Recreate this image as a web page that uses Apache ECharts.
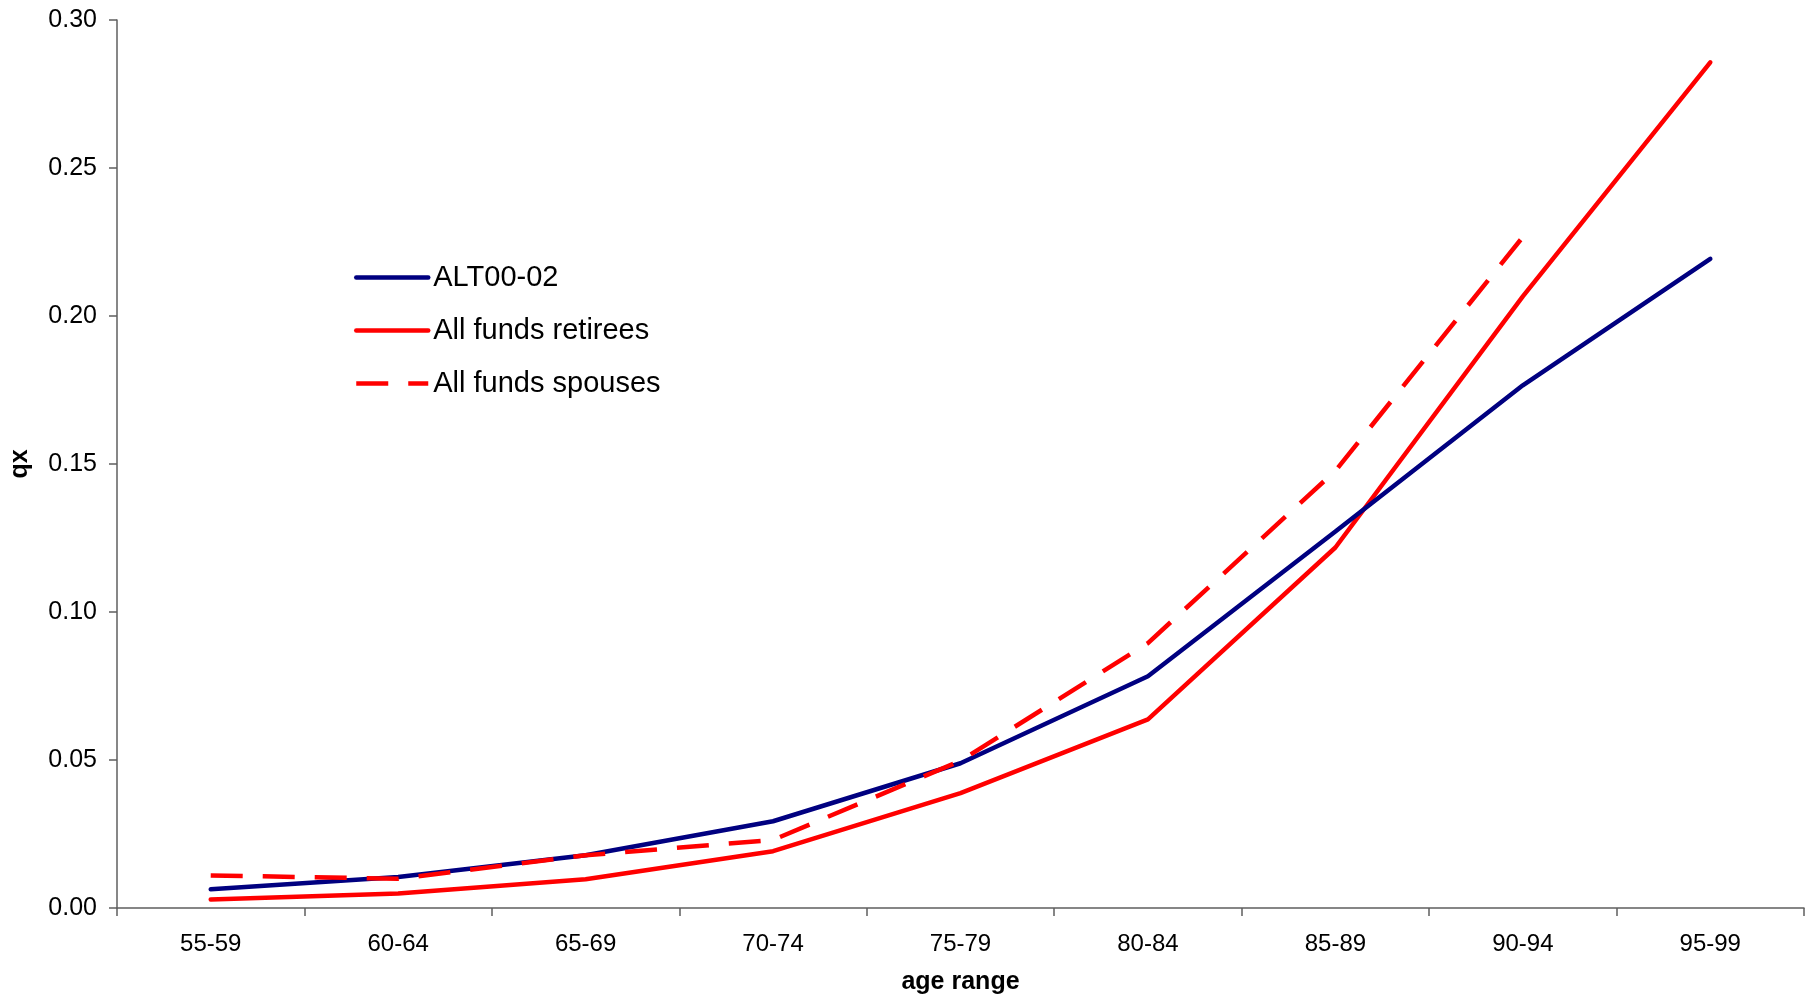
<!DOCTYPE html>
<html>
<head>
<meta charset="utf-8">
<title>qx by age range</title>
<script src="https://cdn.jsdelivr.net/npm/echarts@6/dist/echarts.min.js"></script>
<style>
  html, body { margin: 0; padding: 0; background: #ffffff; }
  #chart { width: 1818px; height: 997px; }
</style>
</head>
<body>
<div id="chart"></div>
<script>
// Age bands on the horizontal axis
const ageRanges = ['55-59', '60-64', '65-69', '70-74', '75-79', '80-84', '85-89', '90-94', '95-99'];

// Mortality rates qx per age band
const alt0002 = [0.0063, 0.0105, 0.0178, 0.0293, 0.0489, 0.0783, 0.1272, 0.1766, 0.2193];
const allFundsRetirees = [0.0029, 0.0049, 0.0097, 0.0192, 0.0388, 0.0637, 0.1218, 0.2066, 0.2857];
const allFundsSpouses = [0.0110, 0.0099, 0.0178, 0.0230, 0.0497, 0.0895, 0.1477, 0.2267, null];

// Value axis ticks
const yMin = 0;
const yMax = 0.30;
const yStep = 0.05;

const fontFamily = '"Liberation Sans", Arial, Helvetica, sans-serif';
const axisGrey = '#5f5f5f';

const chart = echarts.init(document.getElementById('chart'), null, { renderer: 'canvas' });

chart.setOption({
  animation: false,
  backgroundColor: '#ffffff',
  textStyle: { fontFamily: fontFamily, color: '#000' },
  grid: {
    left: 117, right: 14, top: 20, bottom: 89,
    containLabel: false,
    outerBoundsMode: 'none'
  },
  legend: {
    orient: 'vertical',
    left: 354,
    top: 263,
    padding: 0,
    itemWidth: 72,
    itemHeight: 26,
    itemGap: 24,
    itemStyle: { opacity: 0 },
    lineStyle: { width: 4.5 },
    textStyle: { fontFamily: fontFamily, fontSize: 29, color: '#000' },
    data: ['ALT00-02', 'All funds retirees', 'All funds spouses']
  },
  xAxis: {
    type: 'category',
    data: ageRanges,
    boundaryGap: true,
    name: 'age range',
    nameLocation: 'middle',
    nameGap: 62,
    nameTextStyle: { fontFamily: fontFamily, fontSize: 25, fontWeight: 'bold', color: '#000' },
    axisLine: { show: true, lineStyle: { color: axisGrey, width: 1.5 } },
    axisTick: { show: true, length: 8, inside: false, alignWithLabel: false, lineStyle: { color: axisGrey, width: 1.5 } },
    axisLabel: { fontFamily: fontFamily, fontSize: 24, color: '#000', margin: 24 },
    splitLine: { show: false }
  },
  yAxis: {
    type: 'value',
    min: yMin,
    max: yMax,
    interval: yStep,
    name: 'qx',
    nameLocation: 'middle',
    nameGap: 84,
    nameRotate: 90,
    nameTextStyle: { fontFamily: fontFamily, fontSize: 25, fontWeight: 'bold', color: '#000' },
    axisLine: { show: true, lineStyle: { color: axisGrey, width: 1.5 } },
    axisTick: { show: true, length: 8, inside: false, lineStyle: { color: axisGrey, width: 1.5 } },
    axisLabel: {
      fontFamily: fontFamily, fontSize: 25, color: '#000', margin: 20,
      formatter: function (v) { return v.toFixed(2); }
    },
    splitLine: { show: false }
  },
  series: [
    {
      name: 'ALT00-02',
      type: 'line',
      data: alt0002,
      symbol: 'none',
      z: 3,
      lineStyle: { color: '#000080', width: 4.5, type: 'solid', cap: 'round' },
      itemStyle: { color: '#000080' }
    },
    {
      name: 'All funds retirees',
      type: 'line',
      data: allFundsRetirees,
      symbol: 'none',
      z: 2,
      lineStyle: { color: '#ff0000', width: 4.5, type: 'solid', cap: 'round' },
      itemStyle: { color: '#ff0000' }
    },
    {
      name: 'All funds spouses',
      type: 'line',
      data: allFundsSpouses,
      symbol: 'none',
      connectNulls: false,
      z: 4,
      lineStyle: { color: '#ff0000', width: 4.5, type: [32, 20] },
      itemStyle: { color: '#ff0000' }
    }
  ]
});
</script>
</body>
</html>
